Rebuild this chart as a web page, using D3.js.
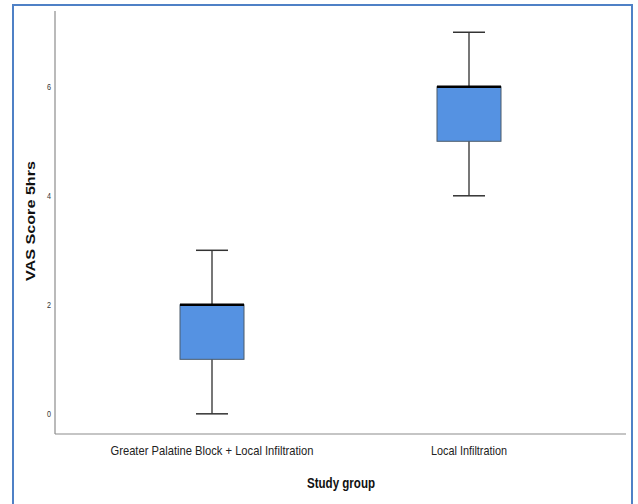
<!DOCTYPE html>
<html>
<head>
<meta charset="utf-8">
<script src="https://cdn.jsdelivr.net/npm/d3@7"></script>
<style>
  body { margin: 0; background: #fff; }
  svg { display: block; }
</style>
</head>
<body>
<svg width="638" height="504"></svg>
<script>
// box plot data
const groups = ['Greater Palatine Block + Local Infiltration', 'Local Infiltration'];
const labelWidths = [203, 76]; // narrow font look
const mins = [0, 4];
const q1s = [1, 5];
const medians = [2, 6];
const q3s = [2, 6];
const maxs = [3, 7];
const yTicks = [0, 2, 4, 6];

const svg = d3.select('svg');
const font = '"Liberation Sans", Arial, sans-serif';

// outer frame
svg.append('rect')
  .attr('x', 13).attr('y', 5)
  .attr('width', 619).attr('height', 510)
  .attr('fill', 'none')
  .attr('stroke', '#4f81c6')
  .attr('stroke-width', 2);

const plotL = 55, plotR = 626, plotT = 11, plotB = 434;

const x = d3.scalePoint().domain(groups).range([212, 469]);
const y = d3.scaleLinear().domain([-0.37, 7.39]).range([plotB, plotT]);

const g = svg.append('g');

// axes lines
g.append('line').attr('x1', plotL).attr('x2', plotL).attr('y1', plotT).attr('y2', plotB)
  .attr('stroke', '#8c8c8c').attr('stroke-width', 1.2);
g.append('line').attr('x1', plotL).attr('x2', plotR).attr('y1', plotB).attr('y2', plotB)
  .attr('stroke', '#8c8c8c').attr('stroke-width', 1.2);

// y tick labels (squeezed a bit)
g.selectAll('.ytick').data(yTicks).enter().append('text')
  .attr('transform', d => `translate(51,${y(d)}) scale(0.8,1)`)
  .attr('dy', '0.35em')
  .attr('text-anchor', 'end')
  .attr('font-family', font)
  .attr('font-size', 9)
  .attr('fill', '#333')
  .text(d => d);

// x tick labels
g.selectAll('.xtick').data(groups).enter().append('text')
  .attr('x', (d, i) => x(d) - labelWidths[i] / 2)
  .attr('y', 455)
  .attr('font-family', font)
  .attr('font-size', 13.5)
  .attr('fill', '#222')
  .attr('textLength', (d, i) => labelWidths[i])
  .attr('lengthAdjust', 'spacingAndGlyphs')
  .text(d => d);

// axis titles
svg.append('text')
  .attr('x', 307).attr('y', 488)
  .attr('font-family', font)
  .attr('font-weight', 'bold')
  .attr('font-size', 14)
  .attr('fill', '#111')
  .attr('textLength', 68)
  .attr('lengthAdjust', 'spacingAndGlyphs')
  .text('Study group');

svg.append('text')
  .attr('transform', 'translate(35,281) rotate(-90)')
  .attr('font-family', font)
  .attr('font-weight', 'bold')
  .attr('font-size', 13.5)
  .attr('fill', '#111')
  .attr('textLength', 120)
  .attr('lengthAdjust', 'spacingAndGlyphs')
  .text('VAS Score 5hrs');

// boxes
const boxW = 64, capW = 32;
const boxes = g.selectAll('.box').data(groups).enter().append('g')
  .attr('transform', d => `translate(${x(d)},0)`);

boxes.append('line')
  .attr('x1', 0).attr('x2', 0)
  .attr('y1', (d, i) => y(maxs[i])).attr('y2', (d, i) => y(mins[i]))
  .attr('stroke', '#4a4a4a').attr('stroke-width', 1.5);

boxes.append('line')
  .attr('x1', -capW / 2).attr('x2', capW / 2)
  .attr('y1', (d, i) => y(maxs[i])).attr('y2', (d, i) => y(maxs[i]))
  .attr('stroke', '#333').attr('stroke-width', 1.5);

boxes.append('line')
  .attr('x1', -capW / 2).attr('x2', capW / 2)
  .attr('y1', (d, i) => y(mins[i])).attr('y2', (d, i) => y(mins[i]))
  .attr('stroke', '#333').attr('stroke-width', 1.5);

boxes.append('rect')
  .attr('x', -boxW / 2)
  .attr('y', (d, i) => y(q3s[i]))
  .attr('width', boxW)
  .attr('height', (d, i) => y(q1s[i]) - y(q3s[i]))
  .attr('fill', '#5592e2')
  .attr('stroke', '#4a5a6a')
  .attr('stroke-width', 1);

boxes.append('line')
  .attr('x1', -boxW / 2).attr('x2', boxW / 2)
  .attr('y1', (d, i) => y(medians[i])).attr('y2', (d, i) => y(medians[i]))
  .attr('stroke', '#000').attr('stroke-width', 2.5);
</script>
</body>
</html>
